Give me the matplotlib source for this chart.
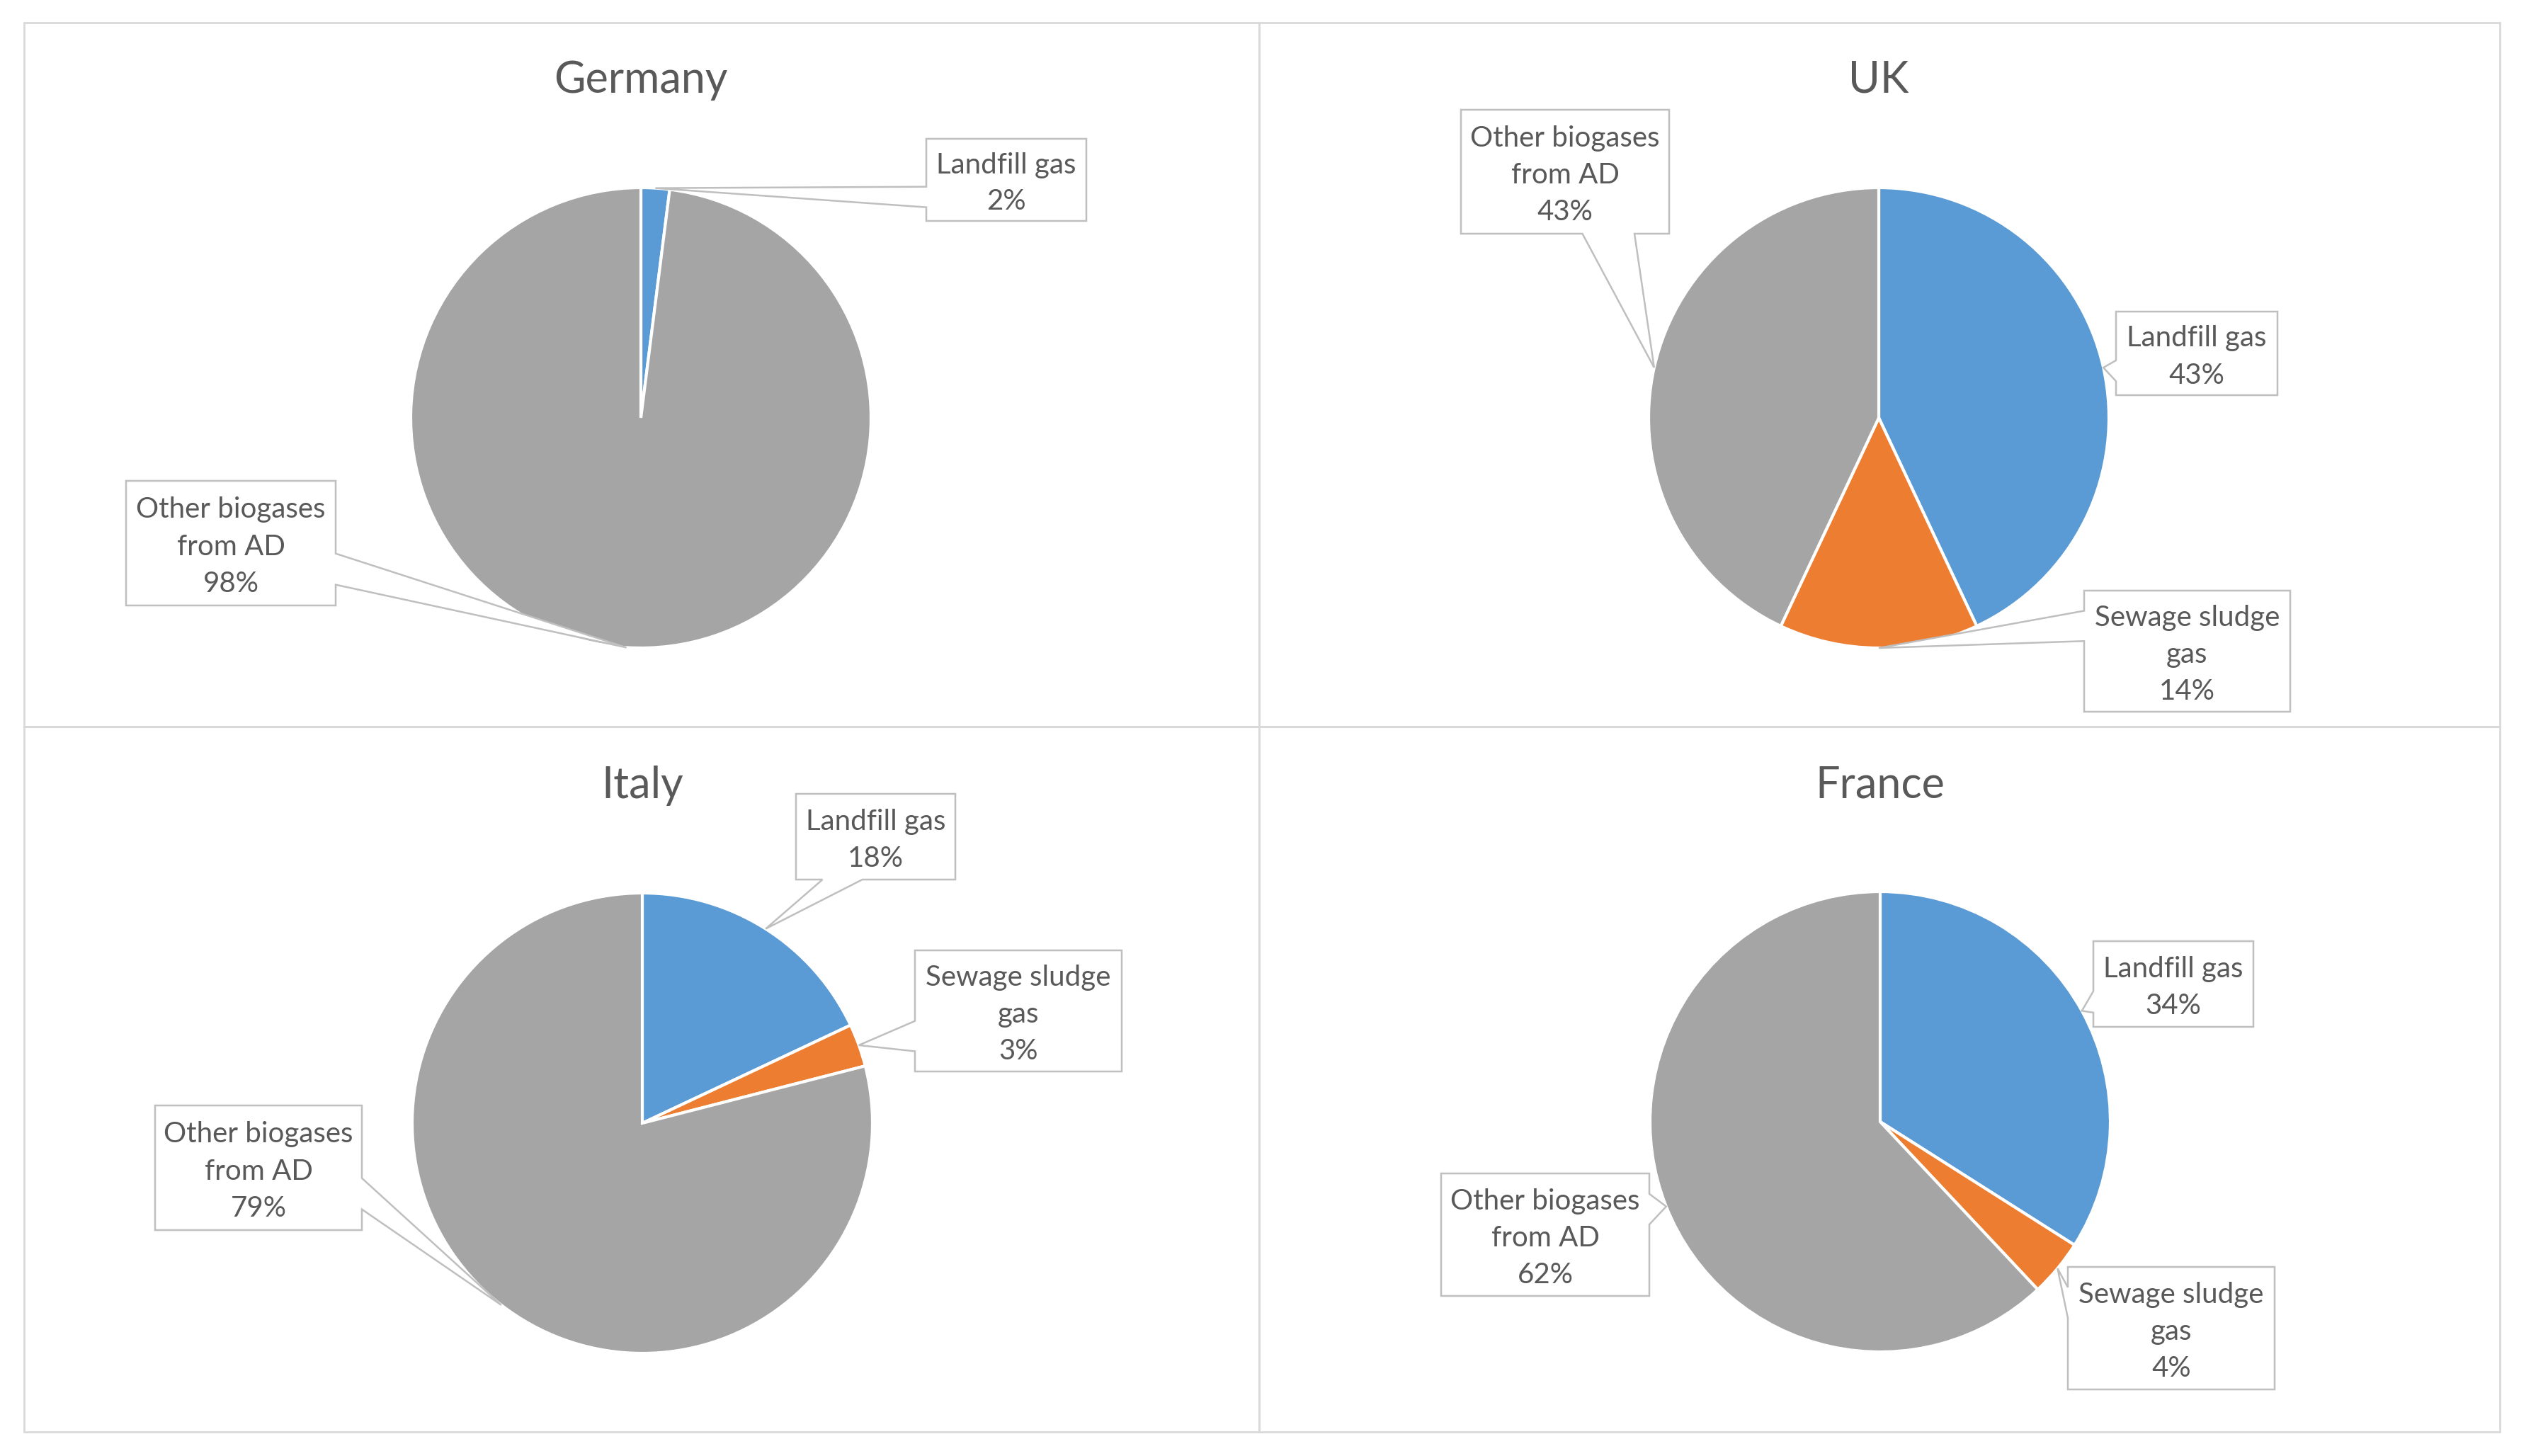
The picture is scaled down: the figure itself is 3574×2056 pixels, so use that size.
import numpy as np
import matplotlib
matplotlib.use("Agg")
import matplotlib.pyplot as plt
from matplotlib.patches import Polygon, Rectangle

# ---------------- data ----------------
countries = ["Germany", "UK", "Italy", "France"]
categories = ["Landfill gas", "Sewage sludge gas", "Other biogases from AD"]
label_text = ["Landfill gas", "Sewage sludge\ngas", "Other biogases\nfrom AD"]
landfill = [2, 43, 18, 34]
sewage = [0, 14, 3, 4]
other = [98, 43, 79, 62]

colors = ["#5B9BD5", "#ED7D31", "#A5A5A5"]
TXT = "#595959"

# ---------------- layout (pixels, top-down) ----------------
W, H = 3574, 2056
panel_x = [34, 1778, 3530]
panel_y = [32, 1026, 2022]
pie_centers = {"Germany": (905, 590), "UK": (2653, 590),
               "Italy": (907, 1586), "France": (2655, 1584)}
R = 325
title_y = {"Germany": 113, "UK": 113, "Italy": 1109, "France": 1109}
# callout boxes: (left, top, right, bottom) per country per category
boxes = {
    "Germany": {0: (1308, 196, 1534, 312), 2: (178, 679, 474, 855)},
    "UK": {0: (2988, 440, 3216, 558), 1: (2943, 834, 3234, 1005), 2: (2063, 155, 2357, 330)},
    "Italy": {0: (1124, 1121, 1349, 1242), 1: (1292, 1342, 1584, 1513), 2: (219, 1561, 511, 1737)},
    "France": {0: (2956, 1329, 3182, 1450), 1: (2920, 1789, 3212, 1962), 2: (2035, 1657, 2329, 1830)},
}
TEXT_DY = 5  # small downward nudge of callout text

plt.rcParams['font.family'] = ['Lato', 'DejaVu Sans']

fig = plt.figure(figsize=(W / 100, H / 100), dpi=100)
fig.patch.set_facecolor("white")
ax = fig.add_axes([0, 0, 1, 1])


def Y(y):
    return H - y


def callout(box, tip):
    x0, y0, x1, y1 = box
    w, h = x1 - x0, y1 - y0
    cx, cy = (x0 + x1) / 2, (y0 + y1) / 2
    tx, ty = tip
    dxp, dyp = tx - cx, ty - cy
    TL, TR, BR, BL = (x0, y0), (x1, y0), (x1, y1), (x0, y1)
    if abs(dxp * h) > abs(dyp * w):
        a, b = (7, 10) if dyp > 0 else (2, 5)
        if dxp < 0:  # left side
            pts = [TL, TR, BR, BL, (x0, y0 + h * b / 12), tip, (x0, y0 + h * a / 12)]
        else:
            pts = [TL, TR, (x1, y0 + h * a / 12), tip, (x1, y0 + h * b / 12), BR, BL]
    else:
        a, b = (7, 10) if dxp > 0 else (2, 5)
        if dyp < 0:  # top
            pts = [TL, (x0 + w * a / 12, y0), tip, (x0 + w * b / 12, y0), TR, BR, BL]
        else:
            pts = [TL, TR, BR, (x0 + w * b / 12, y1), tip, (x0 + w * a / 12, y1), BL]
    return [(p[0], Y(p[1])) for p in pts]


for i, c in enumerate(countries):
    vals = [landfill[i], sewage[i], other[i]]
    idx = [k for k, v in enumerate(vals) if v > 0]
    v = [vals[k] for k in idx]
    cx, cy = pie_centers[c]
    ax.pie(v, colors=[colors[k] for k in idx], center=(cx, Y(cy)), radius=R,
           startangle=90, counterclock=False,
           wedgeprops=dict(edgecolor="white", linewidth=3))
    ax.text(cx, Y(title_y[c]), c, ha="center", va="center", fontsize=44, color=TXT)
    total = sum(v)
    cum = 0
    for k, val in zip(idx, v):
        mid = (cum + val / 2) / total * 2 * np.pi
        cum += val
        tip = (cx + R * np.sin(mid), cy - R * np.cos(mid))
        bx = boxes[c][k]
        poly = Polygon(callout(bx, tip), closed=True, facecolor="white",
                       edgecolor="#BFBFBF", linewidth=1.8, zorder=5)
        ax.add_patch(poly)
        ax.text((bx[0] + bx[2]) / 2, Y((bx[1] + bx[3]) / 2 + TEXT_DY),
                f"{label_text[k]}\n{val}%", ha="center", va="center",
                fontsize=29, color=TXT, linespacing=1.5, zorder=6)

# panel borders
for r in range(2):
    for cc in range(2):
        x0, x1 = panel_x[cc], panel_x[cc + 1]
        y0, y1 = panel_y[r], panel_y[r + 1]
        ax.add_patch(Rectangle((x0, Y(y1)), x1 - x0, y1 - y0, fill=False,
                               edgecolor="#D9D9D9", linewidth=2, zorder=1))

ax.set_xlim(0, W)
ax.set_ylim(0, H)
ax.set_aspect("auto")
ax.axis("off")

fig.savefig("out.png", dpi=100, facecolor="white")
